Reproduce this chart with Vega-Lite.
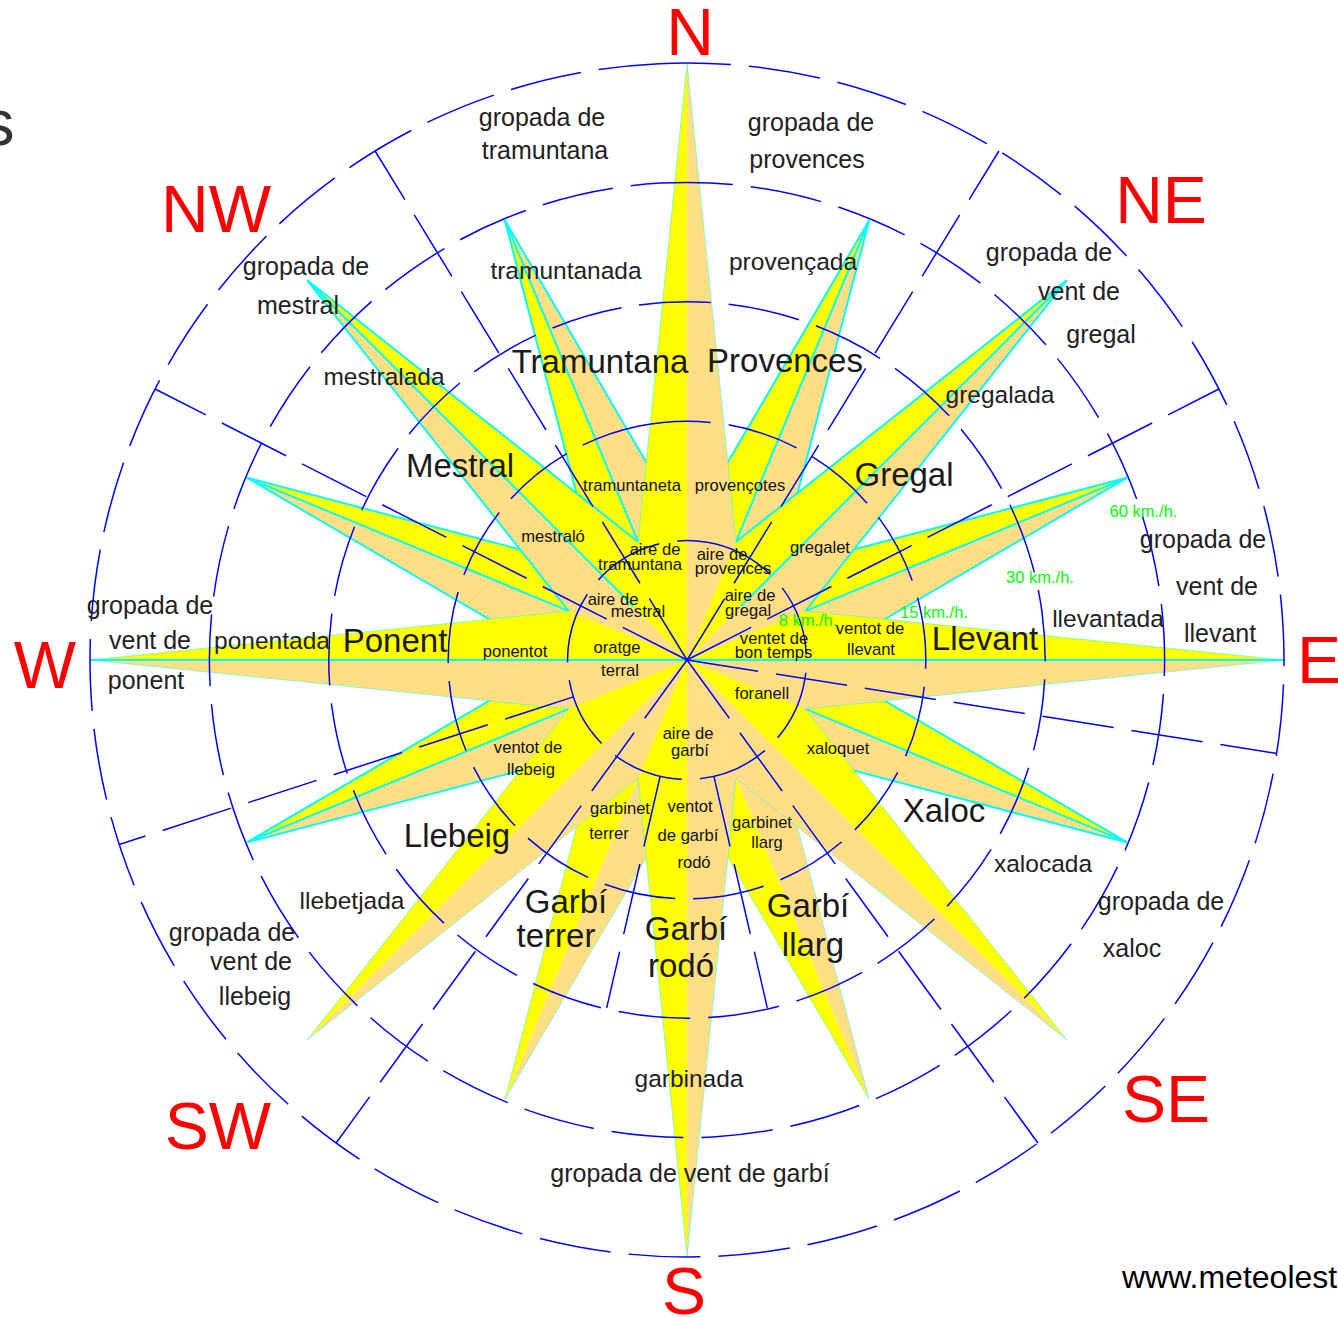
{
  "$schema": "https://vega.github.io/schema/vega-lite/v6.json",
  "width": 1302,
  "height": 1314,
  "autosize": "none",
  "padding": {"left": 36, "top": 3, "right": 0, "bottom": 0},
  "background": "white",
  "config": {"view": {"stroke": null}},
  "datasets": {
    "spikes": [
      {"id":"NNEa","t":1,"c":"Y","o":0,"x":0,"y":0},{"id":"NNEa","t":1,"c":"Y","o":1,"x":0,"y":128},{"id":"NNEa","t":1,"c":"Y","o":2,"x":182.2,"y":439.8},
      {"id":"NNEb","t":1,"c":"T","o":0,"x":0,"y":0},{"id":"NNEb","t":1,"c":"T","o":1,"x":182.2,"y":439.8},{"id":"NNEb","t":1,"c":"T","o":2,"x":90.5,"y":90.5},
      {"id":"ENEa","t":1,"c":"Y","o":0,"x":0,"y":0},{"id":"ENEa","t":1,"c":"Y","o":1,"x":90.5,"y":90.5},{"id":"ENEa","t":1,"c":"Y","o":2,"x":439.8,"y":182.2},
      {"id":"ENEb","t":1,"c":"T","o":0,"x":0,"y":0},{"id":"ENEb","t":1,"c":"T","o":1,"x":439.8,"y":182.2},{"id":"ENEb","t":1,"c":"T","o":2,"x":128,"y":0},
      {"id":"ESEa","t":1,"c":"Y","o":0,"x":0,"y":0},{"id":"ESEa","t":1,"c":"Y","o":1,"x":128,"y":0},{"id":"ESEa","t":1,"c":"Y","o":2,"x":439.8,"y":-182.2},
      {"id":"ESEb","t":1,"c":"T","o":0,"x":0,"y":0},{"id":"ESEb","t":1,"c":"T","o":1,"x":439.8,"y":-182.2},{"id":"ESEb","t":1,"c":"T","o":2,"x":90.5,"y":-90.5},
      {"id":"SSEa","t":1,"c":"T","o":0,"x":0,"y":0},{"id":"SSEa","t":1,"c":"T","o":1,"x":90.5,"y":-90.5},{"id":"SSEa","t":1,"c":"T","o":2,"x":182.2,"y":-439.8},
      {"id":"SSEb","t":1,"c":"Y","o":0,"x":0,"y":0},{"id":"SSEb","t":1,"c":"Y","o":1,"x":182.2,"y":-439.8},{"id":"SSEb","t":1,"c":"Y","o":2,"x":0,"y":-128},
      {"id":"SSWa","t":1,"c":"T","o":0,"x":0,"y":0},{"id":"SSWa","t":1,"c":"T","o":1,"x":0,"y":-128},{"id":"SSWa","t":1,"c":"T","o":2,"x":-182.2,"y":-439.8},
      {"id":"SSWb","t":1,"c":"Y","o":0,"x":0,"y":0},{"id":"SSWb","t":1,"c":"Y","o":1,"x":-182.2,"y":-439.8},{"id":"SSWb","t":1,"c":"Y","o":2,"x":-90.5,"y":-90.5},
      {"id":"WSWa","t":1,"c":"T","o":0,"x":0,"y":0},{"id":"WSWa","t":1,"c":"T","o":1,"x":-90.5,"y":-90.5},{"id":"WSWa","t":1,"c":"T","o":2,"x":-439.8,"y":-182.2},
      {"id":"WSWb","t":1,"c":"Y","o":0,"x":0,"y":0},{"id":"WSWb","t":1,"c":"Y","o":1,"x":-439.8,"y":-182.2},{"id":"WSWb","t":1,"c":"Y","o":2,"x":-128,"y":0},
      {"id":"WNWa","t":1,"c":"T","o":0,"x":0,"y":0},{"id":"WNWa","t":1,"c":"T","o":1,"x":-128,"y":0},{"id":"WNWa","t":1,"c":"T","o":2,"x":-439.8,"y":182.2},
      {"id":"WNWb","t":1,"c":"Y","o":0,"x":0,"y":0},{"id":"WNWb","t":1,"c":"Y","o":1,"x":-439.8,"y":182.2},{"id":"WNWb","t":1,"c":"Y","o":2,"x":-90.5,"y":90.5},
      {"id":"NNWa","t":1,"c":"Y","o":0,"x":0,"y":0},{"id":"NNWa","t":1,"c":"Y","o":1,"x":-90.5,"y":90.5},{"id":"NNWa","t":1,"c":"Y","o":2,"x":-182.2,"y":439.8},
      {"id":"NNWb","t":1,"c":"T","o":0,"x":0,"y":0},{"id":"NNWb","t":1,"c":"T","o":1,"x":-182.2,"y":439.8},{"id":"NNWb","t":1,"c":"T","o":2,"x":0,"y":128},
      {"id":"NEa","t":2,"c":"Y","o":0,"x":0,"y":0},{"id":"NEa","t":2,"c":"Y","o":1,"x":49,"y":118.3},{"id":"NEa","t":2,"c":"Y","o":2,"x":379.7,"y":379.7},
      {"id":"NEb","t":2,"c":"T","o":0,"x":0,"y":0},{"id":"NEb","t":2,"c":"T","o":1,"x":379.7,"y":379.7},{"id":"NEb","t":2,"c":"T","o":2,"x":118.3,"y":49},
      {"id":"SEa","t":2,"c":"Y","o":0,"x":0,"y":0},{"id":"SEa","t":2,"c":"Y","o":1,"x":118.3,"y":-49},{"id":"SEa","t":2,"c":"Y","o":2,"x":379.7,"y":-379.7},
      {"id":"SEb","t":2,"c":"T","o":0,"x":0,"y":0},{"id":"SEb","t":2,"c":"T","o":1,"x":379.7,"y":-379.7},{"id":"SEb","t":2,"c":"T","o":2,"x":49,"y":-118.3},
      {"id":"SWa","t":2,"c":"T","o":0,"x":0,"y":0},{"id":"SWa","t":2,"c":"T","o":1,"x":-49,"y":-118.3},{"id":"SWa","t":2,"c":"T","o":2,"x":-379.7,"y":-379.7},
      {"id":"SWb","t":2,"c":"Y","o":0,"x":0,"y":0},{"id":"SWb","t":2,"c":"Y","o":1,"x":-379.7,"y":-379.7},{"id":"SWb","t":2,"c":"Y","o":2,"x":-118.3,"y":-49},
      {"id":"NWa","t":2,"c":"T","o":0,"x":0,"y":0},{"id":"NWa","t":2,"c":"T","o":1,"x":-118.3,"y":49},{"id":"NWa","t":2,"c":"T","o":2,"x":-379.7,"y":379.7},
      {"id":"NWb","t":2,"c":"Y","o":0,"x":0,"y":0},{"id":"NWb","t":2,"c":"Y","o":1,"x":-379.7,"y":379.7},{"id":"NWb","t":2,"c":"Y","o":2,"x":-49,"y":118.3},
      {"id":"Na","t":3,"c":"Y","o":0,"x":0,"y":0},{"id":"Na","t":3,"c":"Y","o":1,"x":-49,"y":118.3},{"id":"Na","t":3,"c":"Y","o":2,"x":0,"y":597},
      {"id":"Nb","t":3,"c":"T","o":0,"x":0,"y":0},{"id":"Nb","t":3,"c":"T","o":1,"x":0,"y":597},{"id":"Nb","t":3,"c":"T","o":2,"x":49,"y":118.3},
      {"id":"Ea","t":3,"c":"Y","o":0,"x":0,"y":0},{"id":"Ea","t":3,"c":"Y","o":1,"x":118.3,"y":49},{"id":"Ea","t":3,"c":"Y","o":2,"x":597,"y":0},
      {"id":"Eb","t":3,"c":"T","o":0,"x":0,"y":0},{"id":"Eb","t":3,"c":"T","o":1,"x":597,"y":0},{"id":"Eb","t":3,"c":"T","o":2,"x":118.3,"y":-49},
      {"id":"Sa","t":3,"c":"T","o":0,"x":0,"y":0},{"id":"Sa","t":3,"c":"T","o":1,"x":49,"y":-118.3},{"id":"Sa","t":3,"c":"T","o":2,"x":0,"y":-597},
      {"id":"Sb","t":3,"c":"Y","o":0,"x":0,"y":0},{"id":"Sb","t":3,"c":"Y","o":1,"x":0,"y":-597},{"id":"Sb","t":3,"c":"Y","o":2,"x":-49,"y":-118.3},
      {"id":"Wa","t":3,"c":"T","o":0,"x":0,"y":0},{"id":"Wa","t":3,"c":"T","o":1,"x":-118.3,"y":-49},{"id":"Wa","t":3,"c":"T","o":2,"x":-597,"y":0},
      {"id":"Wb","t":3,"c":"Y","o":0,"x":0,"y":0},{"id":"Wb","t":3,"c":"Y","o":1,"x":-597,"y":0},{"id":"Wb","t":3,"c":"Y","o":2,"x":-118.3,"y":49}
    ],
    "edges": [
      {"s":"NNE","t":1,"k":"c","o":0,"x":0,"y":128},{"s":"NNE","t":1,"k":"c","o":1,"x":182.2,"y":439.8},{"s":"NNE","t":1,"k":"c","o":2,"x":90.5,"y":90.5},
      {"s":"ENE","t":1,"k":"c","o":0,"x":90.5,"y":90.5},{"s":"ENE","t":1,"k":"c","o":1,"x":439.8,"y":182.2},{"s":"ENE","t":1,"k":"c","o":2,"x":128,"y":0},
      {"s":"ESE","t":1,"k":"c","o":0,"x":128,"y":0},{"s":"ESE","t":1,"k":"c","o":1,"x":439.8,"y":-182.2},{"s":"ESE","t":1,"k":"c","o":2,"x":90.5,"y":-90.5},
      {"s":"SSE","t":1,"k":"f","o":0,"x":90.5,"y":-90.5},{"s":"SSE","t":1,"k":"f","o":1,"x":182.2,"y":-439.8},{"s":"SSE","t":1,"k":"f","o":2,"x":0,"y":-128},
      {"s":"SSW","t":1,"k":"f","o":0,"x":0,"y":-128},{"s":"SSW","t":1,"k":"f","o":1,"x":-182.2,"y":-439.8},{"s":"SSW","t":1,"k":"f","o":2,"x":-90.5,"y":-90.5},
      {"s":"WSW","t":1,"k":"c","o":0,"x":-90.5,"y":-90.5},{"s":"WSW","t":1,"k":"c","o":1,"x":-439.8,"y":-182.2},{"s":"WSW","t":1,"k":"c","o":2,"x":-128,"y":0},
      {"s":"WNW","t":1,"k":"c","o":0,"x":-128,"y":0},{"s":"WNW","t":1,"k":"c","o":1,"x":-439.8,"y":182.2},{"s":"WNW","t":1,"k":"c","o":2,"x":-90.5,"y":90.5},
      {"s":"NNW","t":1,"k":"c","o":0,"x":-90.5,"y":90.5},{"s":"NNW","t":1,"k":"c","o":1,"x":-182.2,"y":439.8},{"s":"NNW","t":1,"k":"c","o":2,"x":0,"y":128},
      {"s":"NE","t":2,"k":"c","o":0,"x":49,"y":118.3},{"s":"NE","t":2,"k":"c","o":1,"x":379.7,"y":379.7},{"s":"NE","t":2,"k":"c","o":2,"x":118.3,"y":49},
      {"s":"SE","t":2,"k":"f","o":0,"x":118.3,"y":-49},{"s":"SE","t":2,"k":"f","o":1,"x":379.7,"y":-379.7},{"s":"SE","t":2,"k":"f","o":2,"x":49,"y":-118.3},
      {"s":"SW","t":2,"k":"f","o":0,"x":-49,"y":-118.3},{"s":"SW","t":2,"k":"f","o":1,"x":-379.7,"y":-379.7},{"s":"SW","t":2,"k":"f","o":2,"x":-118.3,"y":-49},
      {"s":"NW","t":2,"k":"c","o":0,"x":-118.3,"y":49},{"s":"NW","t":2,"k":"c","o":1,"x":-379.7,"y":379.7},{"s":"NW","t":2,"k":"c","o":2,"x":-49,"y":118.3},
      {"s":"N","t":3,"k":"f","o":0,"x":-49,"y":118.3},{"s":"N","t":3,"k":"f","o":1,"x":0,"y":597},{"s":"N","t":3,"k":"f","o":2,"x":49,"y":118.3},
      {"s":"E","t":3,"k":"f","o":0,"x":118.3,"y":49},{"s":"E","t":3,"k":"f","o":1,"x":597,"y":0},{"s":"E","t":3,"k":"f","o":2,"x":118.3,"y":-49},
      {"s":"S","t":3,"k":"f","o":0,"x":49,"y":-118.3},{"s":"S","t":3,"k":"f","o":1,"x":0,"y":-597},{"s":"S","t":3,"k":"f","o":2,"x":-49,"y":-118.3},
      {"s":"W","t":3,"k":"f","o":0,"x":-118.3,"y":-49},{"s":"W","t":3,"k":"f","o":1,"x":-597,"y":0},{"s":"W","t":3,"k":"f","o":2,"x":-118.3,"y":49}
    ],
    "axes": [
      {"t":1,"x":48.2,"y":116.4,"x2":182.2,"y2":439.8},
      {"t":1,"x":116.4,"y":48.2,"x2":439.8,"y2":182.2},
      {"t":1,"x":116.4,"y":-48.2,"x2":439.8,"y2":-182.2},
      {"t":1,"x":-116.4,"y":-48.2,"x2":-439.8,"y2":-182.2},
      {"t":1,"x":-116.4,"y":48.2,"x2":-439.8,"y2":182.2},
      {"t":1,"x":-48.2,"y":116.4,"x2":-182.2,"y2":439.8},
      {"t":2,"x":53.7,"y":53.7,"x2":379.7,"y2":379.7},
      {"t":2,"x":-53.7,"y":53.7,"x2":-379.7,"y2":379.7},
      {"t":3,"x":-597,"y":0,"x2":597,"y2":0}
    ],
    "circles": [
      {"r":119.4,"t0":0.168,"t1":6.4512},
      {"r":238.8,"t0":-0.2017,"t1":6.0815},
      {"r":358.2,"t0":-0.1345,"t1":6.1487},
      {"r":477.6,"t0":-0.0545,"t1":6.2287},
      {"r":597,"t0":-0.0469,"t1":6.2363}
    ],
    "radials": [
      {"b":31.5,"x":0,"y":0,"x2":311.9,"y2":509.0},
      {"b":63,"x":0,"y":0,"x2":531.9,"y2":271.0},
      {"b":99,"x":0,"y":0,"x2":589.7,"y2":-93.4},
      {"b":144,"x":0,"y":0,"x2":350.9,"y2":-483.0},
      {"b":216,"x":0,"y":0,"x2":-350.9,"y2":-483.0},
      {"b":252,"x":-113.6,"y":-36.9,"x2":-567.8,"y2":-184.5},
      {"b":297,"x":0,"y":0,"x2":-531.9,"y2":271.0},
      {"b":328.5,"x":0,"y":0,"x2":-311.9,"y2":509.0},
      {"b":167,"x":26.9,"y":-116.3,"x2":80.3,"y2":-347.8},
      {"b":193,"x":-26.9,"y":-116.3,"x2":-80.3,"y2":-347.8}
    ],
    "labels": [
      {"g":"mid","txt":"gropada de","x":-145,"y":542},{"g":"mid","txt":"tramuntana","x":-142,"y":509},
      {"g":"mid","txt":"gropada de","x":124,"y":537},{"g":"mid","txt":"provences","x":120,"y":500},
      {"g":"mid","txt":"gropada de","x":362,"y":407},{"g":"mid","txt":"vent de","x":392,"y":368},{"g":"mid","txt":"gregal","x":414,"y":325},
      {"g":"mid","txt":"gropada de","x":516,"y":120},{"g":"mid","txt":"vent de","x":530,"y":73},{"g":"mid","txt":"llevant","x":533,"y":26},
      {"g":"mid","txt":"gropada de","x":474,"y":-242},{"g":"mid","txt":"xaloc","x":445,"y":-289},
      {"g":"mid","txt":"gropada de vent de garbí","x":3,"y":-514},
      {"g":"mid","txt":"gropada de","x":-455,"y":-273},{"g":"mid","txt":"vent de","x":-436,"y":-302},{"g":"mid","txt":"llebeig","x":-432,"y":-337},
      {"g":"mid","txt":"gropada de","x":-537,"y":54},{"g":"mid","txt":"vent de","x":-537,"y":19},{"g":"mid","txt":"ponent","x":-541,"y":-21},
      {"g":"mid","txt":"gropada de","x":-381,"y":393},{"g":"mid","txt":"mestral","x":-389,"y":354},
      {"g":"ring","txt":"tramuntanada","x":-121,"y":388},{"g":"ring","txt":"provençada","x":106,"y":397},
      {"g":"ring","txt":"gregalada","x":313,"y":264},{"g":"ring","txt":"llevantada","x":421,"y":40},
      {"g":"ring","txt":"xalocada","x":356,"y":-205},{"g":"ring","txt":"garbinada","x":2,"y":-420},
      {"g":"ring","txt":"llebetjada","x":-335,"y":-242},{"g":"ring","txt":"ponentada","x":-415,"y":18},
      {"g":"ring","txt":"mestralada","x":-303,"y":282},
      {"g":"big","txt":"Tramuntana","x":-87,"y":297},{"g":"big","txt":"Provences","x":98,"y":298},
      {"g":"big","txt":"Gregal","x":217,"y":184},{"g":"big","txt":"Llevant","x":298,"y":20},
      {"g":"big","txt":"Xaloc","x":257,"y":-152},
      {"g":"big","txt":"Garbí","x":-1,"y":-270},{"g":"big","txt":"rodó","x":-6,"y":-307},
      {"g":"big","txt":"Garbí","x":-121,"y":-243},{"g":"big","txt":"terrer","x":-131,"y":-277},
      {"g":"big","txt":"Garbí","x":121,"y":-247},{"g":"big","txt":"llarg","x":126,"y":-286},
      {"g":"big","txt":"Llebeig","x":-230,"y":-177},{"g":"big","txt":"Ponent","x":-292,"y":18},
      {"g":"big","txt":"Mestral","x":-227,"y":193},
      {"g":"small","txt":"tramuntaneta","x":-55,"y":174},{"g":"small","txt":"provençotes","x":53,"y":174},
      {"g":"small","txt":"gregalet","x":133,"y":112},
      {"g":"small","txt":"ventot de","x":183,"y":31},{"g":"small","txt":"llevant","x":184,"y":10},
      {"g":"small","txt":"xaloquet","x":151,"y":-89},
      {"g":"small","txt":"garbinet","x":75,"y":-163},{"g":"small","txt":"llarg","x":80,"y":-183},
      {"g":"small","txt":"ventot","x":3,"y":-147},{"g":"small","txt":"de garbí","x":1,"y":-176},{"g":"small","txt":"rodó","x":7,"y":-203},
      {"g":"small","txt":"garbinet","x":-67,"y":-149},{"g":"small","txt":"terrer","x":-78,"y":-174},
      {"g":"small","txt":"ventot de","x":-159,"y":-88},{"g":"small","txt":"llebeig","x":-156,"y":-110},
      {"g":"small","txt":"ponentot","x":-172,"y":8},{"g":"small","txt":"mestraló","x":-134,"y":123},
      {"g":"small","txt":"aire de","x":-32,"y":110},{"g":"small","txt":"tramuntana","x":-47,"y":95},
      {"g":"small","txt":"aire de","x":35,"y":105},{"g":"small","txt":"provences","x":46,"y":91},
      {"g":"small","txt":"aire de","x":-74,"y":60},{"g":"small","txt":"mestral","x":-49,"y":48},
      {"g":"small","txt":"aire de","x":63,"y":64},{"g":"small","txt":"gregal","x":61,"y":49},
      {"g":"small","txt":"ventet de","x":87,"y":21},{"g":"small","txt":"bon temps","x":86.5,"y":7},
      {"g":"small","txt":"oratge","x":-70,"y":12},{"g":"small","txt":"terral","x":-67,"y":-11},
      {"g":"small","txt":"foranell","x":75,"y":-34},
      {"g":"small","txt":"aire de","x":1,"y":-74},{"g":"small","txt":"garbí","x":3,"y":-91},
      {"g":"green","txt":"8 km./h.","x":121,"y":39},{"g":"green","txt":"15 km./h.","x":247,"y":47},
      {"g":"green","txt":"30 km./h.","x":353,"y":82},{"g":"green","txt":"60 km./h.","x":456.5,"y":148},
      {"g":"card","txt":"N","x":3,"y":605},{"g":"card","txt":"NE","x":474,"y":437},
      {"g":"card","txt":"E","x":632,"y":-23},{"g":"card","txt":"SE","x":479,"y":-462},
      {"g":"card","txt":"S","x":-3,"y":-654},{"g":"card","txt":"SW","x":-469,"y":-489},
      {"g":"card","txt":"W","x":-642,"y":-28},{"g":"card","txt":"NW","x":-471,"y":428},
      {"g":"title","txt":"s","x":-672.5,"y":515},
      {"g":"url","txt":"www.meteolest","x":435,"y":-628}
    ]
  },
  "layer": [
    {
      "data": {"name": "spikes"},
      "transform": [{"filter": "datum.t == 1"}],
      "mark": {"type": "line", "interpolate": "linear-closed", "filled": true, "strokeWidth": 0},
      "encoding": {
        "x": {"field": "x", "type": "quantitative", "scale": {"domain": [-651, 651], "nice": false, "zero": false}, "axis": null},
        "y": {"field": "y", "type": "quantitative", "scale": {"domain": [-657, 657], "nice": false, "zero": false}, "axis": null},
        "color": {"field": "c", "type": "nominal", "scale": {"domain": ["Y", "T"], "range": ["#FFFF00", "#FFDE84"]}, "legend": null},
        "detail": {"field": "id"},
        "order": {"field": "o", "type": "quantitative"}
      }
    },
    {
      "data": {"name": "edges"},
      "transform": [{"filter": "datum.t == 1"}],
      "mark": {"type": "line", "color": "#00FFFF"},
      "encoding": {
        "x": {"field": "x", "type": "quantitative", "scale": {"domain": [-651, 651], "nice": false, "zero": false}, "axis": null},
        "y": {"field": "y", "type": "quantitative", "scale": {"domain": [-657, 657], "nice": false, "zero": false}, "axis": null},
        "detail": {"field": "s"},
        "order": {"field": "o", "type": "quantitative"},
        "strokeWidth": {"field": "k", "type": "nominal", "scale": {"domain": ["c", "f"], "range": [2, 1]}, "legend": null},
        "opacity": {"field": "k", "type": "nominal", "scale": {"domain": ["c", "f"], "range": [1, 0.45]}, "legend": null}
      }
    },
    {
      "data": {"name": "axes"},
      "transform": [{"filter": "datum.t == 1"}],
      "mark": {"type": "rule", "color": "#00FFFF", "strokeWidth": 2},
      "encoding": {
        "x": {"field": "x", "type": "quantitative", "scale": {"domain": [-651, 651], "nice": false, "zero": false}, "axis": null},
        "y": {"field": "y", "type": "quantitative", "scale": {"domain": [-657, 657], "nice": false, "zero": false}, "axis": null},
        "x2": {"field": "x2"},
        "y2": {"field": "y2"}
      }
    },
    {
      "data": {"name": "spikes"},
      "transform": [{"filter": "datum.t == 2"}],
      "mark": {"type": "line", "interpolate": "linear-closed", "filled": true, "strokeWidth": 0},
      "encoding": {
        "x": {"field": "x", "type": "quantitative", "scale": {"domain": [-651, 651], "nice": false, "zero": false}, "axis": null},
        "y": {"field": "y", "type": "quantitative", "scale": {"domain": [-657, 657], "nice": false, "zero": false}, "axis": null},
        "color": {"field": "c", "type": "nominal", "scale": {"domain": ["Y", "T"], "range": ["#FFFF00", "#FFDE84"]}, "legend": null},
        "detail": {"field": "id"},
        "order": {"field": "o", "type": "quantitative"}
      }
    },
    {
      "data": {"name": "edges"},
      "transform": [{"filter": "datum.t == 2"}],
      "mark": {"type": "line", "color": "#00FFFF"},
      "encoding": {
        "x": {"field": "x", "type": "quantitative", "scale": {"domain": [-651, 651], "nice": false, "zero": false}, "axis": null},
        "y": {"field": "y", "type": "quantitative", "scale": {"domain": [-657, 657], "nice": false, "zero": false}, "axis": null},
        "detail": {"field": "s"},
        "order": {"field": "o", "type": "quantitative"},
        "strokeWidth": {"field": "k", "type": "nominal", "scale": {"domain": ["c", "f"], "range": [2, 1]}, "legend": null},
        "opacity": {"field": "k", "type": "nominal", "scale": {"domain": ["c", "f"], "range": [1, 0.45]}, "legend": null}
      }
    },
    {
      "data": {"name": "axes"},
      "transform": [{"filter": "datum.t == 2"}],
      "mark": {"type": "rule", "color": "#00FFFF", "strokeWidth": 2},
      "encoding": {
        "x": {"field": "x", "type": "quantitative", "scale": {"domain": [-651, 651], "nice": false, "zero": false}, "axis": null},
        "y": {"field": "y", "type": "quantitative", "scale": {"domain": [-657, 657], "nice": false, "zero": false}, "axis": null},
        "x2": {"field": "x2"},
        "y2": {"field": "y2"}
      }
    },
    {
      "data": {"name": "spikes"},
      "transform": [{"filter": "datum.t == 3"}],
      "mark": {"type": "line", "interpolate": "linear-closed", "filled": true, "strokeWidth": 0},
      "encoding": {
        "x": {"field": "x", "type": "quantitative", "scale": {"domain": [-651, 651], "nice": false, "zero": false}, "axis": null},
        "y": {"field": "y", "type": "quantitative", "scale": {"domain": [-657, 657], "nice": false, "zero": false}, "axis": null},
        "color": {"field": "c", "type": "nominal", "scale": {"domain": ["Y", "T"], "range": ["#FFFF00", "#FFDE84"]}, "legend": null},
        "detail": {"field": "id"},
        "order": {"field": "o", "type": "quantitative"}
      }
    },
    {
      "data": {"name": "edges"},
      "transform": [{"filter": "datum.t == 3"}],
      "mark": {"type": "line", "color": "#00FFFF", "strokeWidth": 1, "opacity": 0.45},
      "encoding": {
        "x": {"field": "x", "type": "quantitative", "scale": {"domain": [-651, 651], "nice": false, "zero": false}, "axis": null},
        "y": {"field": "y", "type": "quantitative", "scale": {"domain": [-657, 657], "nice": false, "zero": false}, "axis": null},
        "detail": {"field": "s"},
        "order": {"field": "o", "type": "quantitative"}
      }
    },
    {
      "data": {"name": "axes"},
      "transform": [{"filter": "datum.t == 3"}],
      "mark": {"type": "rule", "color": "#00FFFF", "strokeWidth": 2},
      "encoding": {
        "x": {"field": "x", "type": "quantitative", "scale": {"domain": [-651, 651], "nice": false, "zero": false}, "axis": null},
        "y": {"field": "y", "type": "quantitative", "scale": {"domain": [-657, 657], "nice": false, "zero": false}, "axis": null},
        "x2": {"field": "x2"},
        "y2": {"field": "y2"}
      }
    },
    {
      "data": {"name": "circles"},
      "mark": {"type": "arc", "filled": false, "stroke": "#0000FF", "strokeWidth": 1.5, "strokeDash": [72, 18]},
      "encoding": {
        "theta": {"field": "t0", "type": "quantitative", "scale": null, "stack": null},
        "theta2": {"field": "t1"},
        "radius": {"field": "r", "type": "quantitative", "scale": {"type": "linear", "domain": [0, 651], "range": [0, {"expr": "width/2"}]}}
      }
    },
    {
      "data": {"name": "radials"},
      "mark": {"type": "rule", "color": "#0000FF", "strokeWidth": 1.5, "strokeDash": [72, 18]},
      "encoding": {
        "x": {"field": "x", "type": "quantitative", "scale": {"domain": [-651, 651], "nice": false, "zero": false}, "axis": null},
        "y": {"field": "y", "type": "quantitative", "scale": {"domain": [-657, 657], "nice": false, "zero": false}, "axis": null},
        "x2": {"field": "x2"},
        "y2": {"field": "y2"}
      }
    },
    {
      "data": {"name": "labels"},
      "transform": [{"filter": "datum.g == 'mid'"}],
      "mark": {"type": "text", "font": "Liberation Sans", "fontSize": 25, "color": "#222222", "align": "center", "baseline": "middle"},
      "encoding": {
        "x": {"field": "x", "type": "quantitative", "scale": {"domain": [-651, 651], "nice": false, "zero": false}, "axis": null},
        "y": {"field": "y", "type": "quantitative", "scale": {"domain": [-657, 657], "nice": false, "zero": false}, "axis": null},
        "text": {"field": "txt"}
      }
    },
    {
      "data": {"name": "labels"},
      "transform": [{"filter": "datum.g == 'ring'"}],
      "mark": {"type": "text", "font": "Liberation Sans", "fontSize": 24.5, "color": "#222222", "align": "center", "baseline": "middle"},
      "encoding": {
        "x": {"field": "x", "type": "quantitative", "scale": {"domain": [-651, 651], "nice": false, "zero": false}, "axis": null},
        "y": {"field": "y", "type": "quantitative", "scale": {"domain": [-657, 657], "nice": false, "zero": false}, "axis": null},
        "text": {"field": "txt"}
      }
    },
    {
      "data": {"name": "labels"},
      "transform": [{"filter": "datum.g == 'big'"}],
      "mark": {"type": "text", "font": "Liberation Sans", "fontSize": 33, "color": "#1a1a1a", "align": "center", "baseline": "middle"},
      "encoding": {
        "x": {"field": "x", "type": "quantitative", "scale": {"domain": [-651, 651], "nice": false, "zero": false}, "axis": null},
        "y": {"field": "y", "type": "quantitative", "scale": {"domain": [-657, 657], "nice": false, "zero": false}, "axis": null},
        "text": {"field": "txt"}
      }
    },
    {
      "data": {"name": "labels"},
      "transform": [{"filter": "datum.g == 'small'"}],
      "mark": {"type": "text", "font": "Liberation Sans", "fontSize": 16.6, "color": "#111111", "align": "center", "baseline": "middle"},
      "encoding": {
        "x": {"field": "x", "type": "quantitative", "scale": {"domain": [-651, 651], "nice": false, "zero": false}, "axis": null},
        "y": {"field": "y", "type": "quantitative", "scale": {"domain": [-657, 657], "nice": false, "zero": false}, "axis": null},
        "text": {"field": "txt"}
      }
    },
    {
      "data": {"name": "labels"},
      "transform": [{"filter": "datum.g == 'green'"}],
      "mark": {"type": "text", "font": "Liberation Sans", "fontSize": 16.5, "color": "#00FF00", "align": "center", "baseline": "middle"},
      "encoding": {
        "x": {"field": "x", "type": "quantitative", "scale": {"domain": [-651, 651], "nice": false, "zero": false}, "axis": null},
        "y": {"field": "y", "type": "quantitative", "scale": {"domain": [-657, 657], "nice": false, "zero": false}, "axis": null},
        "text": {"field": "txt"}
      }
    },
    {
      "data": {"name": "labels"},
      "transform": [{"filter": "datum.g == 'card'"}],
      "mark": {"type": "text", "font": "Liberation Sans", "fontSize": 66, "color": "#FF0000", "align": "center", "baseline": "alphabetic"},
      "encoding": {
        "x": {"field": "x", "type": "quantitative", "scale": {"domain": [-651, 651], "nice": false, "zero": false}, "axis": null},
        "y": {"field": "y", "type": "quantitative", "scale": {"domain": [-657, 657], "nice": false, "zero": false}, "axis": null},
        "text": {"field": "txt"}
      }
    },
    {
      "data": {"name": "labels"},
      "transform": [{"filter": "datum.g == 'title'"}],
      "mark": {"type": "text", "font": "Liberation Sans", "fontSize": 64, "color": "#333333", "align": "right", "baseline": "alphabetic"},
      "encoding": {
        "x": {"field": "x", "type": "quantitative", "scale": {"domain": [-651, 651], "nice": false, "zero": false}, "axis": null},
        "y": {"field": "y", "type": "quantitative", "scale": {"domain": [-657, 657], "nice": false, "zero": false}, "axis": null},
        "text": {"field": "txt"}
      }
    },
    {
      "data": {"name": "labels"},
      "transform": [{"filter": "datum.g == 'url'"}],
      "mark": {"type": "text", "font": "Liberation Sans", "fontSize": 32, "color": "#000000", "align": "left", "baseline": "alphabetic"},
      "encoding": {
        "x": {"field": "x", "type": "quantitative", "scale": {"domain": [-651, 651], "nice": false, "zero": false}, "axis": null},
        "y": {"field": "y", "type": "quantitative", "scale": {"domain": [-657, 657], "nice": false, "zero": false}, "axis": null},
        "text": {"field": "txt"}
      }
    }
  ]
}
